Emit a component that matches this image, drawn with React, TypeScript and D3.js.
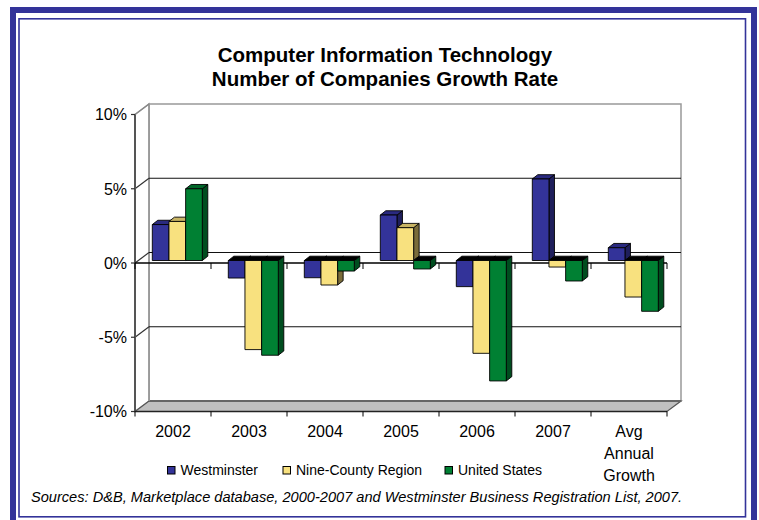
import React from 'react';
import * as d3 from 'd3';

const categories = ['2002', '2003', '2004', '2005', '2006', '2007', 'Avg Annual Growth'];
const seriesNames = ['Westminster', 'Nine-County Region', 'United States'];
const westminster = [2.42, -1.18, -1.16, 3.06, -1.76, 5.49, 0.86];
const nineCounty = [2.63, -6.0, -1.65, 2.21, -6.25, -0.44, -2.46];
const unitedStates = [4.83, -6.38, -0.71, -0.57, -8.11, -1.38, -3.42];
const yTicks = [10, 5, 0, -5, -10];

const fronts = ['#333399', '#F8E17F', '#008033'];
const tops = ['#2A2A80', '#C8B464', '#006629'];
const sides = ['#1F1F5C', '#7A6C3A', '#004D1F'];

// projection of the depth axis
const DX = 14;
const DY = -10.5;

function App() {
  const W = 759;
  const H = 520;
  const font = 'Liberation Sans, Arial, sans-serif';

  const y = d3.scaleLinear().domain([-10, 10]).range([411.5, 114.5]);
  const x = d3.scaleBand().domain(categories).range([135, 667]);
  const inner = d3.scaleBand().domain(seriesNames).range([14, 64]);
  const data = [westminster, nineCounty, unitedStates];

  // bars sit a little way into the depth
  const bdx = 3.3, bdy = -2.5;
  const depX = 5.5, depY = -4.3;

  const x0 = 135, x1 = 667;
  const pts = (a: number[][]) => a.map((p) => p.join(',')).join(' ');

  const bars: JSX.Element[] = [];
  categories.forEach((c, i) => {
    data.forEach((s, j) => {
      const v = s[i];
      const bx = (x(c) as number) + (inner(seriesNames[j]) as number) + bdx;
      const bw = inner.bandwidth();
      const yt = y(Math.max(v, 0)) + bdy;
      const yb = y(Math.min(v, 0)) + bdy;
      bars.push(
        <g key={c + j} stroke="#000" strokeWidth={0.9} strokeLinejoin="round">
          <polygon
            points={pts([[bx + bw, yt], [bx + bw + depX, yt + depY], [bx + bw + depX, yb + depY], [bx + bw, yb]])}
            fill={sides[j]}
          />
          <polygon
            points={pts([[bx, yt], [bx + depX, yt + depY], [bx + bw + depX, yt + depY], [bx + bw, yt]])}
            fill={v < 0 ? '#000' : tops[j]}
          />
          <rect x={bx} y={yt} width={bw} height={yb - yt} fill={fronts[j]} />
        </g>
      );
    });
  });

  const boundaries = categories.map((c) => x(c) as number).concat([x1]);

  return (
    <svg width={W} height={H} style={{ position: 'absolute', left: 0, top: 0, background: '#fff' }} fontFamily={font}>
      {/* frame */}
      <rect x={13} y={10} width={741} height={516} fill="none" stroke="#333399" strokeWidth={6} />
      <rect x={19} y={18.8} width={726.5} height={498} fill="none" stroke="#333399" strokeWidth={1.6} />

      <text x={385} y={62} textAnchor="middle" fontSize={20.5} fontWeight="bold" fill="#000">
        Computer Information Technology
      </text>
      <text x={385} y={85.5} textAnchor="middle" fontSize={20.5} fontWeight="bold" fill="#000">
        Number of Companies Growth Rate
      </text>

      {/* walls */}
      <polygon
        points={pts([[x0 + DX, y(10) + DY], [x1 + DX, y(10) + DY], [x1 + DX, y(-10) + DY], [x0 + DX, y(-10) + DY]])}
        fill="#fff" stroke="#999" strokeWidth={1.5}
      />
      <polygon
        points={pts([[x0, y(10)], [x0 + DX, y(10) + DY], [x0 + DX, y(-10) + DY], [x0, y(-10)]])}
        fill="#fff" stroke="#999" strokeWidth={1.5}
      />
      <polygon
        points={pts([[x0, y(-10)], [x0 + DX, y(-10) + DY], [x1 + DX, y(-10) + DY], [x1, y(-10)]])}
        fill="#C0C0C0" stroke="#555" strokeWidth={1.2}
      />
      <line x1={x0 + DX} x2={x1 + DX} y1={y(-10) + DY} y2={y(-10) + DY} stroke="#666" strokeWidth={2} />
      <line x1={x0 + DX} x2={x0 + DX} y1={y(10) + DY} y2={y(-10) + DY} stroke="#999" strokeWidth={1.5} />

      {/* gridlines */}
      {yTicks.filter((t) => t > -10 && t < 10).map((t) => (
        <line key={'g' + t} x1={x0 + DX} x2={x1 + DX} y1={y(t) + DY} y2={y(t) + DY} stroke="#111" strokeWidth={1.2} />
      ))}
      {yTicks.filter((t) => t > -10).map((t) => (
        <line key={'s' + t} x1={x0} x2={x0 + DX} y1={y(t)} y2={y(t) + DY} stroke={t === 10 ? '#888' : '#333'} strokeWidth={1.2} />
      ))}

      {/* value axis */}
      <line x1={x0} x2={x0} y1={y(10)} y2={y(-10)} stroke="#555" strokeWidth={2} />
      {yTicks.map((t) => (
        <g key={'t' + t}>
          <line x1={x0 - 4} x2={x0} y1={y(t)} y2={y(t)} stroke="#333" strokeWidth={1.2} />
          <text x={127} y={y(t)} dy="0.36em" textAnchor="end" fontSize={16} fill="#000">
            {t + '%'}
          </text>
        </g>
      ))}

      {/* category axis at zero and on the floor */}
      <line x1={x0} x2={x1} y1={y(0)} y2={y(0)} stroke="#000" strokeWidth={1.3} />
      <line x1={x0} x2={x1} y1={y(-10)} y2={y(-10)} stroke="#222" strokeWidth={1.3} />
      {boundaries.map((b, i) => (
        <g key={'b' + i} stroke="#000" strokeWidth={1}>
          <line x1={b} x2={b} y1={y(0)} y2={y(0) + 6} />
          <line x1={b} x2={b} y1={y(-10)} y2={y(-10) + 5} />
        </g>
      ))}

      {bars}

      {categories.map((c) => {
        const lines = c === 'Avg Annual Growth' ? ['Avg', 'Annual', 'Growth'] : [c];
        const cx = (x(c) as number) + x.bandwidth() / 2;
        return lines.map((l, k) => (
          <text key={c + k} x={cx} y={436.5 + k * 22} textAnchor="middle" fontSize={16} fill="#000">
            {l}
          </text>
        ));
      })}

      {/* legend */}
      {seriesNames.map((n, j) => {
        const lx = [167.5, 283, 445][j];
        return (
          <g key={n}>
            <rect x={lx} y={466.5} width={7.5} height={7.5} fill={fronts[j]} stroke="#000" strokeWidth={1} />
            <text x={lx + 13} y={474.5} fontSize={14} fill="#000">
              {n}
            </text>
          </g>
        );
      })}

      <text x={31} y={501.5} fontSize={14.6} fontStyle="italic" fill="#000">
        Sources: D&amp;B, Marketplace database, 2000-2007 and Westminster Business Registration List, 2007.
      </text>
    </svg>
  );
}

export default App;
